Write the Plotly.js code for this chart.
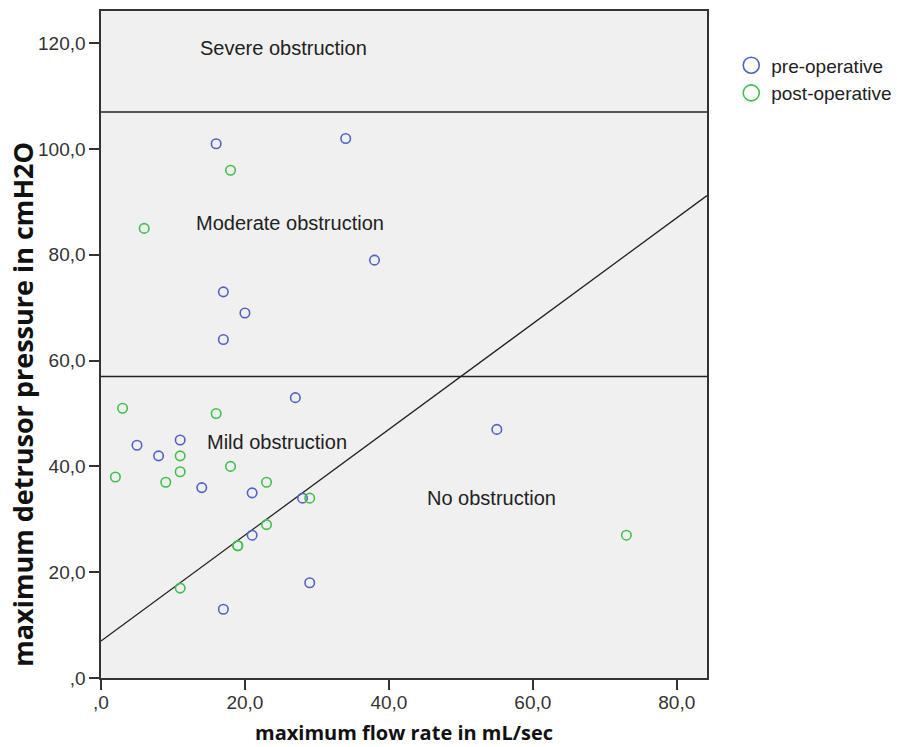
<!DOCTYPE html>
<html>
<head>
<meta charset="utf-8">
<script src="https://cdn.plot.ly/plotly-3.0.1.min.js"></script>
<style>html,body{margin:0;padding:0;background:#fff;}#chart{width:897px;height:747px;}</style>
</head>
<body>
<div id="chart"></div>
<script>
// ---- data ----
const preFlow      = [16, 34, 38, 17, 20, 17, 27, 5, 11, 8, 14, 21, 28, 21, 29, 17, 55];
const prePressure  = [101, 102, 79, 73, 69, 64, 53, 44, 45, 42, 36, 35, 34, 27, 18, 13, 47];
const postFlow     = [18, 6, 3, 16, 11, 11, 2, 9, 18, 23, 29, 23, 19, 19, 11, 73];
const postPressure = [96, 85, 51, 50, 42, 39, 38, 37, 40, 37, 34, 29, 25, 25, 17, 27];

const seriesNames = ['pre-operative', 'post-operative'];
const thresholds = [57, 107];           // horizontal category boundaries (cmH2O)
const lineIntercept = 7;                // diagonal boundary: p = intercept + slope * Q
const lineSlope = 1;

const regionLabels = ['Severe obstruction', 'Moderate obstruction', 'Mild obstruction', 'No obstruction'];
const regionLabelX = [25.3, 26.3, 24.5, 54.3];
const regionLabelY = [119.1, 86.0, 44.7, 34.1];

const xTickVals = [0, 20, 40, 60, 80];
const xTickText = [',0', '20,0', '40,0', '60,0', '80,0'];
const yTickVals = [0, 20, 40, 60, 80, 100, 120];
const yTickText = [',0', '20,0', '40,0', '60,0', '80,0', '100,0', '120,0'];

const xTitle = 'maximum flow rate in mL/sec';
const yTitle = 'maximum detrusor pressure in cmH2O';

// ---- styling ----
const xRange = [0, 84.2];
const yRange = [0, 126.1];
const blue = '#4f64c4';
const green = '#40c04c';
const tickFont = {family: 'Liberation Sans, Arial, sans-serif', size: 19, color: '#333'};
const labelFont = {family: 'Liberation Sans, Arial, sans-serif', size: 20, color: '#222'};

const diagX = [xRange[0], xRange[1]];
const diagY = diagX.map(q => lineIntercept + lineSlope * q);

const traces = [
  {x: diagX, y: diagY, mode: 'lines', line: {color: '#222', width: 1.3}, showlegend: false, hoverinfo: 'skip'},
  {x: preFlow, y: prePressure, mode: 'markers', name: seriesNames[0], showlegend: false,
   marker: {symbol: 'circle-open', size: 9.5, color: blue, line: {width: 1.6}}},
  {x: postFlow, y: postPressure, mode: 'markers', name: seriesNames[1], showlegend: false,
   marker: {symbol: 'circle-open', size: 9.5, color: green, line: {width: 1.6}}},
  {x: [null], y: [null], mode: 'markers', name: seriesNames[0],
   marker: {symbol: 'circle-open', size: 16, color: blue, line: {width: 1.6}}},
  {x: [null], y: [null], mode: 'markers', name: seriesNames[1],
   marker: {symbol: 'circle-open', size: 16, color: green, line: {width: 1.6}}}
];

const shapes = thresholds.map(t => ({
  type: 'line', xref: 'paper', x0: 0, x1: 1, yref: 'y', y0: t, y1: t,
  line: {color: '#222', width: 1.6}
}));

const annotations = regionLabels.map((t, i) => ({
  text: t, x: regionLabelX[i], y: regionLabelY[i], xref: 'x', yref: 'y',
  showarrow: false, font: labelFont, xanchor: 'center', yanchor: 'middle'
}));
annotations.push({
  text: '<b>' + xTitle + '</b>', xref: 'paper', yref: 'paper', x: 0.5, y: -0.104,
  xanchor: 'center', yanchor: 'bottom', showarrow: false, borderpad: 0,
  font: {family: 'Open Sans, sans-serif', size: 20, color: '#111'}
});
annotations.push({
  text: '<b>' + yTitle + '</b>', xref: 'paper', yref: 'paper', x: -0.13, y: 0.41,
  xanchor: 'center', yanchor: 'middle', textangle: -90, showarrow: false,
  font: {family: 'Open Sans, sans-serif', size: 27, color: '#111'}
});

const axisCommon = {
  showgrid: false, zeroline: false, showline: true, linecolor: '#333', linewidth: 1.6,
  mirror: true, ticks: 'outside', ticklen: 10, tickwidth: 2, tickcolor: '#333',
  tickfont: tickFont, fixedrange: true
};

const layout = {
  width: 897, height: 747,
  margin: {l: 101, r: 190, t: 11, b: 69, pad: 0, autoexpand: false},
  paper_bgcolor: '#ffffff', plot_bgcolor: '#f0f0f0',
  font: {family: 'Liberation Sans, Arial, sans-serif', color: '#222'},
  xaxis: Object.assign({}, axisCommon, {range: xRange, tickmode: 'array', tickvals: xTickVals, ticktext: xTickText, ticklabelstandoff: -3}),
  yaxis: Object.assign({}, axisCommon, {range: yRange, tickmode: 'array', tickvals: yTickVals, ticktext: yTickText}),
  showlegend: true,
  legend: {x: 1.04, y: 0.947, xanchor: 'left', yanchor: 'top', bgcolor: 'rgba(0,0,0,0)',
           font: {family: 'Liberation Sans, Arial, sans-serif', size: 19, color: '#222'},
           tracegroupgap: 0},
  shapes: shapes,
  annotations: annotations
};

Plotly.newPlot('chart', traces, layout, {displayModeBar: false, staticPlot: true});
</script>
</body>
</html>
